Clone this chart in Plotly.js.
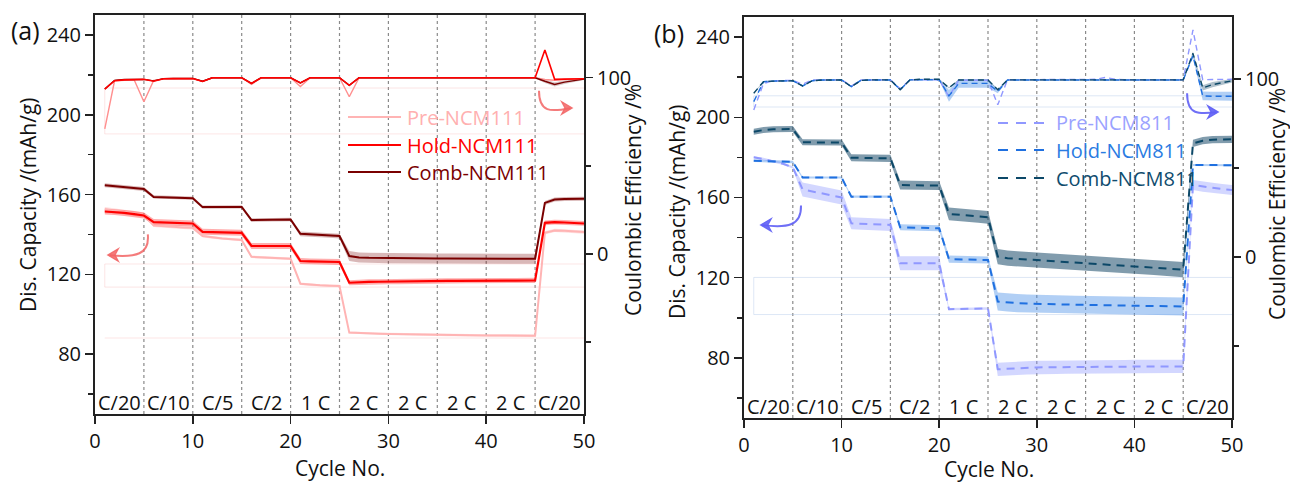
<!DOCTYPE html>
<html>
<head>
<meta charset="utf-8">
<script src="https://cdn.plot.ly/plotly-3.0.1.min.js"></script>
<style>html,body{margin:0;padding:0;background:#fff;}#chart{width:1290px;height:482px;}</style>
</head>
<body>
<div id="chart"></div>
<script>
// ---------- DATA ----------
const cycles = [1,2,3,4,5,6,7,8,9,10,11,12,13,14,15,16,17,18,19,20,21,22,23,24,25,26,27,28,29,30,31,32,33,34,35,36,37,38,39,40,41,42,43,44,45,46,47,48,49,50];
const rateBoundaries = [0,5,10,15,20,25,30,35,40,45,50];
const rateLabels = ['C/20','C/10','C/5','C/2','1 C','2 C','2 C','2 C','2 C','C/20'];
const xTicks = [0,10,20,30,40,50];

// Panel (a) NCM111 discharge capacity (mAh/g)
const capPre111 = [152.5,152.0,151.2,150.5,149.8, 144.5,144.0,143.8,143.5,143.3, 139.2,138.5,138.0,137.6,137.2, 128.8,128.5,128.2,128.0,127.8, 115.3,114.8,114.5,114.3,114.2, 90.8,90.5,90.3,90.2,90.1, 90.0,89.9,89.8,89.8,89.7, 89.6,89.6,89.5,89.5,89.4, 89.4,89.3,89.3,89.2,89.2, 140.8,142.0,141.8,141.5,141.2];
const capHold111 = [151.5,151.2,150.8,150.2,149.5, 146.2,146.0,145.8,145.7,145.5, 141.3,141.2,141.0,140.9,140.8, 134.2,134.3,134.3,134.2,134.2, 126.7,126.5,126.4,126.3,126.2, 115.8,116.1,116.2,116.3,116.4, 116.4,116.5,116.5,116.6,116.6, 116.7,116.7,116.8,116.8,116.8, 116.9,116.9,116.9,117.0,117.0, 145.8,146.2,146.0,145.8,145.5];
const capComb111 = [164.7,164.2,163.8,163.3,162.8, 158.8,158.7,158.5,158.4,158.2, 153.7,153.8,153.8,153.8,153.8, 147.2,147.3,147.4,147.5,147.5, 140.3,140.0,139.8,139.5,139.2, 129.2,128.5,128.3,128.2,128.1, 128.1,128.0,128.0,128.0,127.9, 127.9,127.9,127.9,127.8,127.8, 127.8,127.8,127.8,127.8,127.8, 155.8,157.5,157.8,157.9,157.9];
const errPre111 = [1.2,1.2,1.2,1.2,1.2, 0.8,0.8,0.8,0.8,0.8, 0.6,0.6,0.6,0.6,0.6, 0.6,0.6,0.6,0.6,0.6, 0.6,0.6,0.6,0.6,0.6, 0.6,0.6,0.6,0.6,0.6, 0.6,0.6,0.6,0.6,0.6, 0.6,0.6,0.6,0.6,0.6, 0.6,0.6,0.6,0.6,0.6, 0.8,0.8,0.8,0.8,0.8];
const errHold111 = [1.5,1.5,1.5,1.5,1.5, 1.5,1.5,1.5,1.5,1.5, 1.5,1.5,1.5,1.5,1.5, 1.5,1.5,1.5,1.5,1.5, 1.5,1.5,1.5,1.5,1.5, 1.3,1.3,1.3,1.3,1.3, 1.3,1.3,1.3,1.3,1.3, 1.3,1.3,1.3,1.3,1.3, 1.3,1.3,1.3,1.3,1.3, 1.2,1.2,1.2,1.2,1.2];
const errComb111 = [1.0,1.0,1.0,1.0,1.0, 0.8,0.8,0.8,0.8,0.8, 0.8,0.8,0.8,0.8,0.8, 0.9,0.9,0.9,0.9,0.9, 1.2,1.2,1.2,1.2,1.2, 2.5,2.5,2.5,2.5,2.5, 2.5,2.5,2.5,2.5,2.5, 2.5,2.5,2.5,2.5,2.5, 2.5,2.5,2.5,2.5,2.5, 1.0,1.0,1.0,1.0,1.0];

// Panel (a) NCM111 coulombic efficiency (%)
const cePre111 = [71.0,98.3,98.6,98.9,86.4, 98.5,99.3,99.5,99.5,99.5, 97.9,100,100,100,100, 96.2,100,100,100,100, 95.0,100,100,100,100, 89.2,100,100,100,100, 100,100,100,100,100, 100,100,100,100,100, 100,100,100,100,100, 99.0,98.6,99.0,99.2,99.4];
const ceHold111 = [93.6,98.3,98.8,99.0,99.1, 98.0,99.4,99.5,99.6,99.6, 97.9,100,100,100,100, 96.8,100,100,100,100, 97.1,100,100,100,100, 95.7,100,100,100,100, 100,100,100,100,100, 100,100,100,100,100, 100,100,100,100,100, 115.7,99.1,99.2,99.3,99.4];
const ceComb111 = [93.6,98.5,99.0,99.0,99.1, 98.2,99.5,99.6,99.6,99.6, 98.0,100,100,100,100, 96.8,100,100,100,100, 97.1,100,100,100,100, 95.7,100,100,100,100, 100,100,100,100,100, 100,100,100,100,100, 100,100,100,100,100, 98.0,96.2,97.5,98.5,99.2];
const ceErrComb111 = [0.3,0.3,0.3,0.3,0.3, 0.3,0.3,0.3,0.3,0.3, 0.3,0.3,0.3,0.3,0.3, 0.3,0.3,0.3,0.3,0.3, 0.3,0.3,0.3,0.3,0.3, 0.3,0.3,0.3,0.3,0.3, 0.3,0.3,0.3,0.3,0.3, 0.3,0.3,0.3,0.3,0.3, 0.3,0.3,0.3,0.3,0.3, 1.0,1.2,1.0,0.8,0.5];

// Panel (b) NCM811 discharge capacity (mAh/g)
const capPre811 = [180.0,179.2,178.0,176.8,175.0, 164.0,163.0,162.0,161.0,160.0, 147.1,146.9,146.7,146.5,146.3, 127.2,127.2,127.2,127.2,127.2, 104.3,104.4,104.5,104.6,104.6, 74.3,74.6,74.8,75.0,75.2, 75.3,75.3,75.4,75.4,75.5, 75.5,75.6,75.6,75.6,75.7, 75.7,75.7,75.7,75.7,75.7, 166.2,165.4,164.8,164.2,163.7];
const capHold811 = [178.3,178.2,178.1,177.9,177.7, 170.0,170.0,170.0,169.9,169.9, 160.4,160.4,160.4,160.4,160.4, 145.1,145.0,144.9,144.8,144.6, 129.2,129.1,129.0,128.9,128.8, 108.1,107.6,107.3,107.1,106.9, 106.8,106.7,106.6,106.5,106.4, 106.3,106.2,106.1,106.0,105.9, 105.9,105.8,105.7,105.7,105.6, 176.2,176.2,176.2,176.1,176.1];
const capComb811 = [192.8,193.6,194.0,194.1,194.1, 187.5,187.5,187.5,187.5,187.4, 179.8,179.7,179.6,179.6,179.5, 166.2,166.1,166.0,166.0,165.9, 151.8,151.4,151.0,150.6,150.1, 130.5,129.7,129.4,129.1,128.8, 128.5,128.2,127.9,127.6,127.3, 127.0,126.7,126.4,126.1,125.8, 125.4,125.1,124.8,124.5,124.0, 187.0,188.3,188.8,189.0,189.0];
const errPre811 = [0.6,0.6,0.6,0.6,0.6, 3.5,3.5,3.5,3.5,3.5, 3.0,3.0,3.0,3.0,3.0, 3.5,3.5,3.5,3.5,3.5, 0.6,0.6,0.6,0.6,0.6, 3.3,3.3,3.3,3.3,3.3, 3.3,3.3,3.3,3.3,3.3, 3.3,3.3,3.3,3.3,3.3, 3.3,3.3,3.3,3.3,3.3, 2.5,2.5,2.5,2.5,2.5];
const errHold811 = [0.6,0.6,0.6,0.6,0.6, 0.5,0.5,0.5,0.5,0.5, 0.6,0.6,0.6,0.6,0.6, 1.5,1.5,1.5,1.5,1.5, 1.8,1.8,1.8,1.8,1.8, 4.5,4.5,4.5,4.5,4.5, 4.5,4.5,4.5,4.5,4.5, 4.5,4.5,4.5,4.5,4.5, 4.5,4.5,4.5,4.5,4.5, 0.5,0.5,0.5,0.5,0.5];
const errComb811 = [1.5,1.5,1.5,1.5,1.5, 1.5,1.5,1.5,1.5,1.5, 1.8,1.8,1.8,1.8,1.8, 2.2,2.2,2.2,2.2,2.2, 3.2,3.2,3.2,3.2,3.2, 3.8,3.8,3.8,3.8,3.8, 3.8,3.8,3.8,3.8,3.8, 3.8,3.8,3.8,3.8,3.8, 3.8,3.8,3.8,3.8,3.8, 1.8,1.8,1.8,1.8,1.8];

// Panel (b) NCM811 coulombic efficiency (%)
const cePre811 = [82.6,97.5,99.0,99.0,99.2, 97.0,99.5,99.5,99.5,99.5, 96.0,99.5,99.5,99.5,99.5, 94.5,99.6,99.6,99.6,99.6, 90.0,99.3,99.3,99.3,99.3, 85.5,99.6,99.6,99.6,99.6, 99.6,99.6,99.6,99.6,99.6, 99.8,100.8,99.9,99.6,99.6, 99.6,99.6,99.6,99.6,99.6, 127.5,99.6,99.7,99.8,99.8];
const ceHold811 = [87.3,98.5,98.8,98.9,99.0, 96.1,99.0,99.4,99.4,99.4, 95.7,99.3,99.4,99.4,99.4, 94.0,99.5,99.6,99.6,99.6, 90.5,97.5,97.5,97.5,97.5, 93.0,99.4,99.4,99.4,99.4, 99.4,99.4,99.4,99.4,99.4, 99.4,99.4,99.4,99.4,99.4, 99.4,99.4,99.4,99.4,99.4, 113.0,90.5,90.3,90.3,90.3];
const ceComb811 = [92.0,98.5,98.8,98.9,99.0, 96.1,99.0,99.4,99.4,99.4, 95.7,99.2,99.5,99.5,99.5, 94.0,99.4,99.8,99.8,99.8, 95.0,99.4,99.4,99.4,99.4, 94.0,99.5,99.5,99.5,99.5, 99.5,99.5,99.5,99.5,99.5, 99.5,99.5,99.5,99.5,99.5, 99.5,99.5,99.5,99.5,99.5, 114.4,95.0,96.8,98.0,99.0];
const ceErrHold811 = [0.3,0.3,0.3,0.3,0.3, 0.3,0.3,0.3,0.3,0.3, 0.3,0.3,0.3,0.3,0.3, 0.3,0.3,0.3,0.3,0.3, 3.3,2.5,2.5,2.5,2.5, 1.0,0.3,0.3,0.3,0.3, 0.3,0.3,0.3,0.3,0.3, 0.3,0.6,0.3,0.3,0.3, 0.3,0.3,0.3,0.3,0.3, 1.0,2.5,2.5,2.5,2.5];
const ceErrComb811 = [0.3,0.3,0.3,0.3,0.3, 0.3,0.3,0.3,0.3,0.3, 0.3,0.3,0.3,0.3,0.3, 0.3,0.3,0.3,0.3,0.3, 0.3,0.3,0.3,0.3,0.3, 0.3,0.3,0.3,0.3,0.3, 0.3,0.3,0.3,0.3,0.3, 0.3,0.3,0.3,0.3,0.3, 0.3,0.3,0.3,0.3,0.3, 1.0,1.5,1.5,1.2,1.0];

// faint frame remnants in the original figure (left-axis units)
const faintA = [213.4, 190.4, 125.2, 113.6, 88.1];
const faintB = [210.7, 205.1, 120.1, 101.6];

// ---------- STYLE ----------
const FONT = 'Open Sans, Noto Sans, sans-serif';
const C = {
  pre111:'#ffb4b4', hold111:'#ff0000', comb111:'#7a0000',
  pre111Band:'rgba(255,150,150,0.30)', hold111Band:'rgba(255,40,40,0.38)', comb111Band:'rgba(130,20,20,0.30)',
  pre811:'#9098ff', hold811:'#1f70e0', comb811:'#0c4868',
  pre811Band:'rgba(130,140,255,0.35)', hold811Band:'rgba(70,140,230,0.42)', comb811Band:'rgba(25,75,105,0.55)',
  arrowA:'rgba(242,100,100,0.85)', arrowB:'rgba(95,95,245,0.9)'
};

function band(y, e, xa, ya, color) {
  const up = y.map((v,i)=>v+e[i]);
  const lo = y.map((v,i)=>v-e[i]).reverse();
  return {x: cycles.concat(cycles.slice().reverse()), y: up.concat(lo), xaxis: xa, yaxis: ya,
          type:'scatter', mode:'lines', fill:'toself', fillcolor: color, line:{width:0},
          hoverinfo:'skip', showlegend:false};
}
function line(y, xa, ya, color, width, dash) {
  return {x: cycles, y: y, xaxis: xa, yaxis: ya, type:'scatter', mode:'lines',
          line:{color: color, width: width, dash: dash || 'solid'}, showlegend:false};
}
const DASH = '8px,6px';

const traces = [
  // (a) capacity
  band(capPre111, errPre111, 'x', 'y', C.pre111Band),
  band(capComb111, errComb111, 'x', 'y', C.comb111Band),
  band(capHold111, errHold111, 'x', 'y', C.hold111Band),
  line(capPre111, 'x', 'y', C.pre111, 2),
  line(capComb111, 'x', 'y', C.comb111, 2),
  line(capHold111, 'x', 'y', C.hold111, 2.2),
  // (a) CE
  band(ceComb111, ceErrComb111, 'x', 'y2', 'rgba(150,100,100,0.35)'),
  line(cePre111, 'x', 'y2', '#ff8f8f', 1.4),
  line(ceComb111, 'x', 'y2', C.comb111, 1.4),
  line(ceHold111, 'x', 'y2', C.hold111, 1.6),
  // (b) capacity
  band(capPre811, errPre811, 'x2', 'y3', C.pre811Band),
  band(capHold811, errHold811, 'x2', 'y3', C.hold811Band),
  band(capComb811, errComb811, 'x2', 'y3', C.comb811Band),
  line(capPre811, 'x2', 'y3', C.pre811, 2, DASH),
  line(capHold811, 'x2', 'y3', C.hold811, 2, DASH),
  line(capComb811, 'x2', 'y3', C.comb811, 2, DASH),
  // (b) CE
  band(ceHold811, ceErrHold811, 'x2', 'y4', C.hold811Band),
  band(ceComb811, ceErrComb811, 'x2', 'y4', 'rgba(25,75,105,0.35)'),
  line(cePre811, 'x2', 'y4', C.pre811, 1.4, '6px,4px'),
  line(ceHold811, 'x2', 'y4', C.hold811, 1.4, '6px,4px'),
  line(ceComb811, 'x2', 'y4', C.comb811, 1.4, '6px,4px')
];

// ---------- LAYOUT ----------
const W = 1290, H = 482;
const px = v => v / W, py = v => 1 - v / H;
const axisCommon = {
  showgrid:false, zeroline:false, showline:true, linecolor:'#222', linewidth:2,
  ticks:'outside', ticklen:8, tickwidth:1.5, tickcolor:'#222',
  tickfont:{family:FONT, size:20, color:'#111'}
};
function xAx(domain, anchor) {
  return Object.assign({}, axisCommon, {domain: domain, anchor: anchor, range:[0,50],
    tickmode:'array', tickvals: xTicks, mirror:true, fixedrange:true});
}
function yLeft(domain, anchor) {
  return Object.assign({}, axisCommon, {domain: domain, anchor: anchor, range:[50,250],
    tick0:0, dtick:40, minor:{dtick:20, ticks:'outside', ticklen:5, tickwidth:1.5, tickcolor:'#222'}});
}
function yRight(over, anchor, range) {
  return Object.assign({}, axisCommon, {overlaying: over, anchor: anchor, side:'right', range: range,
    tick0:0, dtick:100, ticklen:7, minor:{dtick:50, ticks:'outside', ticklen:5, tickwidth:1.5, tickcolor:'#222'}});
}

const shapes = [];
const annotations = [];

function decorate(xa, ya, faint, faintColor) {
  rateBoundaries.slice(1, -1).forEach(b => shapes.push({type:'line', xref:xa, yref:ya+' domain', x0:b, x1:b, y0:0, y1:1,
    line:{color:'#8a8a8a', width:1.2, dash:'dot'}, layer:'below'}));
  rateLabels.forEach((t,i) => annotations.push({xref:xa, yref:ya+' domain', x:(rateBoundaries[i]+rateBoundaries[i+1])/2, y:0.028,
    text:t, showarrow:false, yanchor:'middle', xanchor:'center', font:{family:FONT, size:20, color:'#111'}}));
  faint.forEach(v => shapes.push({type:'line', xref:xa, yref:ya, x0:cycles[0], x1:cycles[cycles.length-1], y0:v, y1:v,
    line:{color:faintColor, width:1}, layer:'below'}));
  shapes.push({type:'line', xref:xa, yref:ya, x0:cycles[0], x1:cycles[0], y0:faint[1], y1:faint[0], line:{color:faintColor, width:1}, layer:'below'});
  shapes.push({type:'line', xref:xa, yref:ya, x0:cycles[0], x1:cycles[0], y0:faint[3], y1:faint[2], line:{color:faintColor, width:1}, layer:'below'});
}
decorate('x', 'y', faintA, 'rgba(245,170,170,0.3)');
decorate('x2', 'y3', faintB, 'rgba(170,195,230,0.4)');

// curved arrows (decoration)
function arrow(xa, ya, p, tip, dir, color) {
  shapes.push({type:'path', xref:xa, yref:ya, path:p, line:{color:color, width:2}});
  const [tx, ty] = tip;
  shapes.push({type:'path', xref:xa, yref:ya,
    path:`M${tx},${ty} L${tx + dir*1.1},${ty+3.2} L${tx + dir*0.75},${ty} L${tx + dir*1.1},${ty-3.2} Z`,
    fillcolor:color, line:{color:color, width:1.2}});
}
arrow('x', 'y', 'M5.4,140 C5.6,130 4.2,128.3 1.5,129.6', [1.3,129.7], 1, C.arrowA);
arrow('x', 'y', 'M45.4,212 C45.4,201 46.6,201.4 48.6,203.3', [48.8,203.4], -1, C.arrowA);
arrow('x2', 'y3', 'M5.84,156 C5.9,146 4.5,144.6 1.9,146.2', [1.7,146.3], 1, C.arrowB);
arrow('x2', 'y3', 'M45.4,212 C45.4,201 46.6,201.5 48.4,202.5', [48.6,202.6], -1, C.arrowB);

// manual legends
function legend(items, x0, x1, tx, ys, dash) {
  items.forEach((it, i) => {
    shapes.push({type:'line', xref:'paper', yref:'paper', x0:px(x0), x1:px(x1), y0:py(ys[i]), y1:py(ys[i]),
      line:{color:it.color, width:2.2, dash: dash}});
    annotations.push({xref:'paper', yref:'paper', x:px(tx), y:py(ys[i]), xanchor:'left', yanchor:'middle',
      text:it.name, showarrow:false, font:{family:FONT, size:20, color:it.text}});
  });
}
legend([{name:'Pre-NCM111', color:C.pre111, text:'#ffb0b0'},
        {name:'Hold-NCM111', color:C.hold111, text:'#ff0000'},
        {name:'Comb-NCM111', color:C.comb111, text:'#7a0000'}], 348, 401, 405, [117,145,172], 'solid');
legend([{name:'Pre-NCM811', color:C.pre811, text:'#9ba2ff'},
        {name:'Hold-NCM811', color:C.hold811, text:'#2a7be2'},
        {name:'Comb-NCM811', color:C.comb811, text:'#0f4c6e'}], 998, 1050, 1054, [123,150,178], '10px,8px');

// titles
const tf = {family:FONT, size:21, color:'#111'};
annotations.push(
  {xref:'paper', yref:'paper', x:px(340), y:py(468), text:'Cycle No.', showarrow:false, font:tf, xanchor:'center', yanchor:'middle'},
  {xref:'paper', yref:'paper', x:px(989), y:py(469), text:'Cycle No.', showarrow:false, font:tf, xanchor:'center', yanchor:'middle'},
  {xref:'paper', yref:'paper', x:px(28), y:py(205), text:'Dis. Capacity /(mAh/g)', textangle:-90, showarrow:false, font:tf, xanchor:'center', yanchor:'middle'},
  {xref:'paper', yref:'paper', x:px(633), y:py(200), text:'Coulombic Efficiency /%', textangle:-90, showarrow:false, font:tf, xanchor:'center', yanchor:'middle'},
  {xref:'paper', yref:'paper', x:px(677), y:py(212), text:'Dis. Capacity /(mAh/g)', textangle:-90, showarrow:false, font:tf, xanchor:'center', yanchor:'middle'},
  {xref:'paper', yref:'paper', x:px(1277), y:py(204), text:'Coulombic Efficiency /%', textangle:-90, showarrow:false, font:tf, xanchor:'center', yanchor:'middle'},
  {xref:'paper', yref:'paper', x:px(25), y:py(30), text:'(a)', showarrow:false, font:{family:FONT, size:25, color:'#111'}, xanchor:'center', yanchor:'middle'},
  {xref:'paper', yref:'paper', x:px(669), y:py(33), text:'(b)', showarrow:false, font:{family:FONT, size:25, color:'#111'}, xanchor:'center', yanchor:'middle'}
);

const layout = {
  width: W, height: H, margin:{l:0, r:0, t:0, b:0},
  paper_bgcolor:'#fff', plot_bgcolor:'rgba(0,0,0,0)', showlegend:false,
  xaxis: xAx([px(95), px(584)], 'y'),
  yaxis: yLeft([py(414), py(15)], 'x'),
  yaxis2: yRight('y', 'x', [-90.8, 135.6]),
  xaxis2: xAx([px(744), px(1232)], 'y3'),
  yaxis3: yLeft([py(418), py(17)], 'x2'),
  yaxis4: yRight('y3', 'x2', [-90.4, 134.8]),
  shapes: shapes, annotations: annotations
};

Plotly.newPlot('chart', traces, layout, {staticPlot:true, displayModeBar:false});
</script>
</body>
</html>
